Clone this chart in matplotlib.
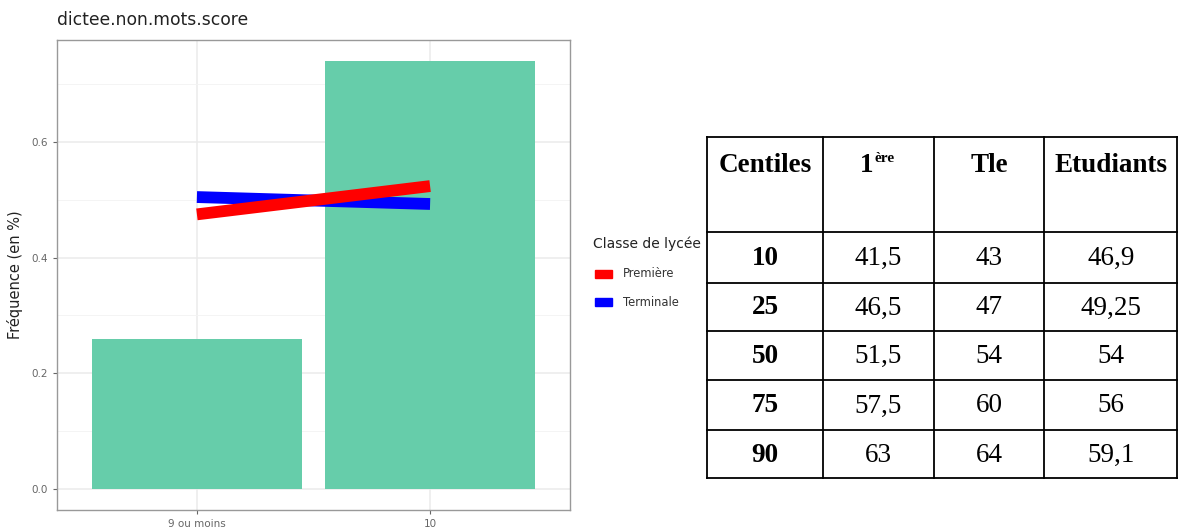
import matplotlib.pyplot as plt
import numpy as np

# bar chart data
categories = ["9 ou moins", "10"]
freq = [0.26, 0.74]
premiere = [0.475, 0.524]
terminale = [0.505, 0.493]

# table data
col_labels = ["Centiles", "1", "Tle", "Etudiants"]
centiles = ["10", "25", "50", "75", "90"]
col_1ere = ["41,5", "46,5", "51,5", "57,5", "63"]
col_tle = ["43", "47", "54", "60", "64"]
col_etud = ["46,9", "49,25", "54", "56", "59,1"]

W, H = 1178, 531
fig = plt.figure(figsize=(W / 100, H / 100), dpi=100)


def px_axes(x0, y0, x1, y1):
    return fig.add_axes([x0 / W, 1 - y1 / H, (x1 - x0) / W, (y1 - y0) / H])


# ---- ggplot-like chart ----
ax = px_axes(57, 40, 570, 510)
x = np.arange(1, len(categories) + 1)
ax.bar(x, freq, width=0.9, color="#66cdaa", zorder=2)
ax.plot(x, terminale, color="blue", lw=8.5, solid_capstyle="butt", zorder=3)
ax.plot(x, premiere, color="red", lw=8.5, solid_capstyle="butt", zorder=4)
ax.set_xlim(0.4, 2.6)
ax.set_ylim(-0.037, 0.777)
ax.set_xticks(x)
ax.set_xticklabels(categories)
ax.set_yticks([0.0, 0.2, 0.4, 0.6])
ax.set_yticks([0.1, 0.3, 0.5, 0.7], minor=True)
ax.grid(True, which="major", color="#ebebeb", lw=1.1, zorder=0)
ax.grid(True, which="minor", axis="y", color="#f3f3f3", lw=0.6, zorder=0)
ax.set_axisbelow(True)
for s in ax.spines.values():
    s.set_color("#999999")
    s.set_linewidth(1.0)
ax.tick_params(which="major", colors="#666666", labelsize=7.5, length=3, width=0.8)
ax.tick_params(which="minor", length=0)
ax.set_ylabel("Fréquence (en %)", fontsize=10.5, color="#222222", labelpad=6)
fig.text(57 / W, 1 - 20 / H, "dictee.non.mots.score", fontsize=12.3,
         color="#222222", va="center", ha="left")

# legend
fig.text(593 / W, 1 - 244 / H, "Classe de lycée", fontsize=10, color="#222222",
         va="center", ha="left")
for yy, c, lab in [(274, "red", "Première"), (302, "blue", "Terminale")]:
    fig.patches.append(plt.Rectangle((595 / W, 1 - (yy + 4) / H), 17 / W, 8 / H,
                                     transform=fig.transFigure, color=c))
    fig.text(623 / W, 1 - yy / H, lab, fontsize=8.3, color="#333333",
             va="center", ha="left")

# ---- table ----
tx = [707, 823, 934, 1044, 1178]
ty = [137, 232, 283, 331, 380, 430, 478]
tb = px_axes(0, 0, W, H)
tb.set_xlim(0, W)
tb.set_ylim(H, 0)
tb.axis("off")
for xv in tx[:-1]:
    tb.plot([xv, xv], [ty[0], ty[-1]], color="black", lw=1.3)
tb.plot([tx[-1] - 1, tx[-1] - 1], [ty[0], ty[-1]], color="black", lw=1.3)
for yv in ty:
    tb.plot([tx[0], tx[-1]], [yv, yv], color="black", lw=1.3)

serif = "Liberation Serif"
centers = [(tx[i] + tx[i + 1]) / 2 for i in range(4)]
hy = 166
fs = 19.5
tb.text(centers[0], hy, col_labels[0], fontsize=fs, fontweight="bold",
        family=serif, ha="center", va="center")
tb.text(centers[1] - 5, hy, col_labels[1], fontsize=fs, fontweight="bold",
        family=serif, ha="right", va="center")
tb.text(centers[1] - 4, hy - 7, "ère", fontsize=11, fontweight="bold",
        family=serif, ha="left", va="center")
tb.text(centers[2], hy, col_labels[2], fontsize=fs, fontweight="bold",
        family=serif, ha="center", va="center")
tb.text(centers[3], hy, col_labels[3], fontsize=fs, fontweight="bold",
        family=serif, ha="center", va="center")

for r in range(len(centiles)):
    yc = (ty[r + 1] + ty[r + 2]) / 2 + 1
    tb.text(centers[0], yc, centiles[r], fontsize=fs, fontweight="bold",
            family=serif, ha="center", va="center")
    for c, col in enumerate([col_1ere, col_tle, col_etud]):
        tb.text(centers[c + 1], yc, col[r], fontsize=fs, family=serif,
                ha="center", va="center")

fig.savefig("out.png", dpi=100)
